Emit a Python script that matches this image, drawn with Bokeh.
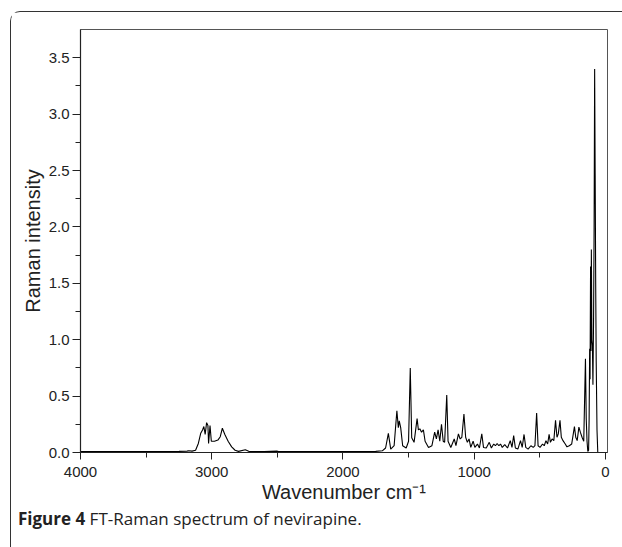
from bokeh.plotting import figure
from bokeh.models import Range1d, FixedTicker, NumeralTickFormatter, Div, Column
from bokeh.embed import file_html
from bokeh.resources import INLINE

# Raman spectrum (wavenumber cm-1, intensity)
wavenumber = [
    4000, 3800, 3600, 3400, 3250, 3188, 3175, 3150, 3123, 3102, 3084, 3070, 3060, 3050,
    3039, 3029, 3024, 3013, 3003, 2979, 2953, 2935, 2919, 2900, 2875, 2848, 2822, 2796,
    2744, 2718, 2600, 2500, 2490, 2300, 2100, 1900, 1750, 1700, 1675,
    1654, 1636, 1610, 1589, 1578, 1571, 1560, 1545, 1518, 1500, 1487, 1476, 1458, 1435,
    1425, 1414, 1401, 1387, 1374, 1348, 1322, 1301, 1288, 1275, 1262, 1249, 1236, 1225,
    1209, 1199, 1178, 1152, 1139, 1120, 1107, 1094, 1078, 1065, 1052, 1039, 1026, 1008,
    995, 975, 960, 942, 929, 908, 885, 869, 851, 838, 825, 812, 799, 786, 767, 746, 725,
    712, 699, 686, 667, 647, 634, 620, 607, 589, 568, 550, 537, 524, 513, 498, 479, 466,
    453, 440, 429, 419, 406, 393, 380, 369, 359, 346, 336, 323, 306, 293, 275, 257, 236,
    226, 215, 202, 191, 178, 165, 152, 146, 140, 134, 128, 124, 120, 117, 113, 110, 107,
    103, 99, 95, 90, 86, 82, 78, 74, 70, 64, 58, 52,
]
intensity = [
    0.008, 0.008, 0.008, 0.009, 0.010, 0.012, 0.015, 0.012, 0.020, 0.080, 0.170, 0.200, 0.230, 0.160,
    0.265, 0.240, 0.080, 0.240, 0.100, 0.100, 0.110, 0.140, 0.215, 0.160, 0.100, 0.050, 0.020, 0.010,
    0.024, 0.010, 0.008, 0.012, 0.008, 0.008, 0.008, 0.008, 0.010, 0.015, 0.040,
    0.170, 0.030, 0.060, 0.370, 0.220, 0.280, 0.220, 0.060, 0.040, 0.100, 0.750, 0.130, 0.090, 0.300,
    0.200, 0.210, 0.180, 0.200, 0.100, 0.045, 0.060, 0.180, 0.120, 0.200, 0.100, 0.250, 0.100, 0.090,
    0.510, 0.100, 0.045, 0.120, 0.060, 0.165, 0.120, 0.135, 0.340, 0.135, 0.090, 0.120, 0.045, 0.100,
    0.045, 0.075, 0.040, 0.165, 0.045, 0.040, 0.090, 0.040, 0.075, 0.060, 0.080, 0.060, 0.075, 0.045, 0.070, 0.040, 0.105,
    0.045, 0.150, 0.040, 0.030, 0.105, 0.045, 0.160, 0.045, 0.030, 0.060, 0.045, 0.060, 0.350, 0.060, 0.045, 0.075, 0.060,
    0.105, 0.075, 0.160, 0.090, 0.120, 0.105, 0.285, 0.135, 0.165, 0.285, 0.135, 0.105, 0.075, 0.050, 0.060, 0.075, 0.230,
    0.135, 0.105, 0.225, 0.180, 0.135, 0.100, 0.830, 0.300, 0.100, 0.010, 0.020, 0.300, 0.920, 0.650, 1.650, 0.900, 1.800,
    1.000, 0.950, 0.600, 1.200, 2.000, 3.400, 2.470, 1.500, 0.800, 0.200, 0.000, 0.000,
]

x_major_ticks = [4000, 3000, 2000, 1000, 0]
x_minor_ticks = [3500, 2500, 1500, 500]
y_major_ticks = [0.0, 0.5, 1.0, 1.5, 2.0, 2.5, 3.0, 3.5]
y_minor_ticks = [0.25, 0.75, 1.25, 1.75, 2.25, 2.75, 3.25]

x_title = "Wavenumber cm\u207b\u00b9"
y_title = "Raman intensity"
caption_bold = "Figure 4"
caption_rest = "FT-Raman spectrum of nevirapine."

TICK_FONT = "Liberation Sans"

p = figure(width=611, height=496, output_backend="svg", toolbar_location=None,
           x_range=Range1d(4000, -16), y_range=Range1d(0, 3.75),
           min_border_left=69, min_border_right=15, min_border_top=17, min_border_bottom=56)

p.background_fill_color = "white"
p.border_fill_color = "white"
p.outline_line_color = "#555555"
p.outline_line_width = 1
p.xgrid.visible = False
p.ygrid.visible = False

p.line(wavenumber, intensity, line_color="black", line_width=1.1)

for ax in (p.xaxis[0], p.yaxis[0]):
    ax.axis_line_color = "#222222"
    ax.axis_line_width = 1.2
    ax.major_tick_line_color = "#222222"
    ax.minor_tick_line_color = "#222222"
    ax.major_tick_in = 0
    ax.minor_tick_in = 0
    ax.major_label_text_font = TICK_FONT
    ax.major_label_text_font_size = "15px"
    ax.major_label_text_color = "#222222"
    ax.axis_label_text_font = TICK_FONT
    ax.axis_label_text_font_style = "normal"
    ax.axis_label_text_color = "#222222"
    ax.axis_label_text_font_size = "20px"

p.xaxis.ticker = FixedTicker(ticks=x_major_ticks, minor_ticks=x_minor_ticks)
p.xaxis.major_tick_out = 7
p.xaxis.minor_tick_out = 5
p.xaxis.major_label_standoff = 7
p.xaxis.axis_label = x_title
p.xaxis.axis_label_standoff = 1

p.yaxis.ticker = FixedTicker(ticks=y_major_ticks, minor_ticks=y_minor_ticks)
p.yaxis.formatter = NumeralTickFormatter(format="0.0")
p.yaxis.major_tick_out = 8
p.yaxis.minor_tick_out = 5
p.yaxis.major_label_standoff = 3
p.yaxis.axis_label = y_title
p.yaxis.axis_label_standoff = 2

cap = Div(
    text=('<div style="font-family:\'Open Sans\'; font-size:17px; color:#222222; '
          'padding:0 0 0 2px; white-space:nowrap; line-height:12px;">'
          f'<b>{caption_bold}</b> {caption_rest}</div>'),
    width=611, height=38,
)

root = Column(
    children=[p, cap],
    margin=(11, 0, 0, 10),
    styles={
        "border-left": "1.5px solid #333333",
        "border-top": "1.5px solid #333333",
        "border-top-left-radius": "10px",
        "background-color": "white",
    },
)

open("out.html", "w").write(file_html(root, INLINE))
